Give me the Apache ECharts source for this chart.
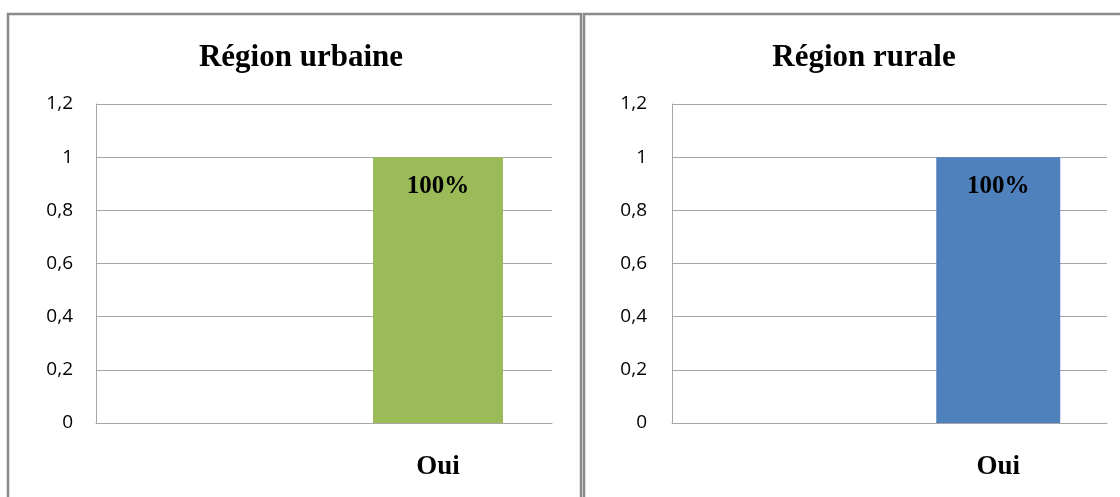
<!DOCTYPE html>
<html>
<head>
<meta charset="utf-8">
<script src="https://cdn.jsdelivr.net/npm/echarts@6/dist/echarts.min.js"></script>
<style>
html,body{margin:0;padding:0;background:#fff;}
#c{width:1120px;height:497px;}
</style>
</head>
<body>
<div id="c"></div>
<script>
const categories = ['', 'Oui'];
const urbanValues = [null, 1];
const ruralValues = [null, 1];
const titles = ['Région urbaine', 'Région rurale'];
const yTicks = [0, 0.2, 0.4, 0.6, 0.8, 1, 1.2];

const serif = '"Liberation Serif", "Times New Roman", serif';
const sans = '"Open Sans", "Liberation Sans", sans-serif';
const gridColor = '#A6A6A6';

function yAxisCfg(idx, margin) {
  return {
    gridIndex: idx, type: 'value', min: yTicks[0], max: yTicks[yTicks.length - 1], interval: 0.2,
    axisLine: {show: true, lineStyle: {color: gridColor, width: 1}},
    axisTick: {show: false},
    splitLine: {show: true, lineStyle: {color: gridColor, width: 1}},
    axisLabel: {
      margin: margin, align: 'right', color: '#000', fontFamily: sans, fontSize: 19,
      formatter: v => String(Number(v.toFixed(1))).replace('.', ',')
    }
  };
}
function xAxisCfg(idx) {
  return {
    gridIndex: idx, type: 'category', data: categories,
    axisLine: {show: true, lineStyle: {color: gridColor, width: 1}},
    axisTick: {show: false},
    axisLabel: {margin: 31, color: '#000', fontFamily: serif, fontWeight: 'bold', fontSize: 27}
  };
}
function barSeries(idx, data, color) {
  return {
    type: 'bar', xAxisIndex: idx, yAxisIndex: idx, data: data, barWidth: '57%',
    itemStyle: {color: color},
    label: {
      show: true, position: 'insideTop', distance: 17, color: '#000',
      fontFamily: serif, fontWeight: 'bold', fontSize: 25,
      formatter: p => (p.value == null ? '' : Math.round(p.value * 100) + '%')
    }
  };
}

const chart = echarts.init(document.getElementById('c'), null, {renderer: 'canvas'});
chart.setOption({
  animation: false,
  backgroundColor: '#fff',
  title: [
    {text: titles[0], left: 296, top: 37, textAlign: 'center',
     textStyle: {fontFamily: serif, fontWeight: 'bold', fontSize: 31, color: '#000'}},
    {text: titles[1], left: 859, top: 37, textAlign: 'center',
     textStyle: {fontFamily: serif, fontWeight: 'bold', fontSize: 31, color: '#000'}}
  ],
  grid: [
    {left: 96, right: 568, top: 104, bottom: 74},
    {left: 672, right: 13, top: 104, bottom: 74}
  ],
  xAxis: [xAxisCfg(0), xAxisCfg(1)],
  yAxis: [yAxisCfg(0, 23), yAxisCfg(1, 25)],
  series: [barSeries(0, urbanValues, '#9BBB59'), barSeries(1, ruralValues, '#4F81BD')],
  graphic: [
    {type: 'rect', shape: {x: 8, y: 14, width: 573, height: 520},
     style: {fill: null, stroke: '#8A8A8A', lineWidth: 2.5}, silent: true},
    {type: 'rect', shape: {x: 584, y: 14, width: 600, height: 520},
     style: {fill: null, stroke: '#8A8A8A', lineWidth: 2.5}, silent: true}
  ]
});
</script>
</body>
</html>
